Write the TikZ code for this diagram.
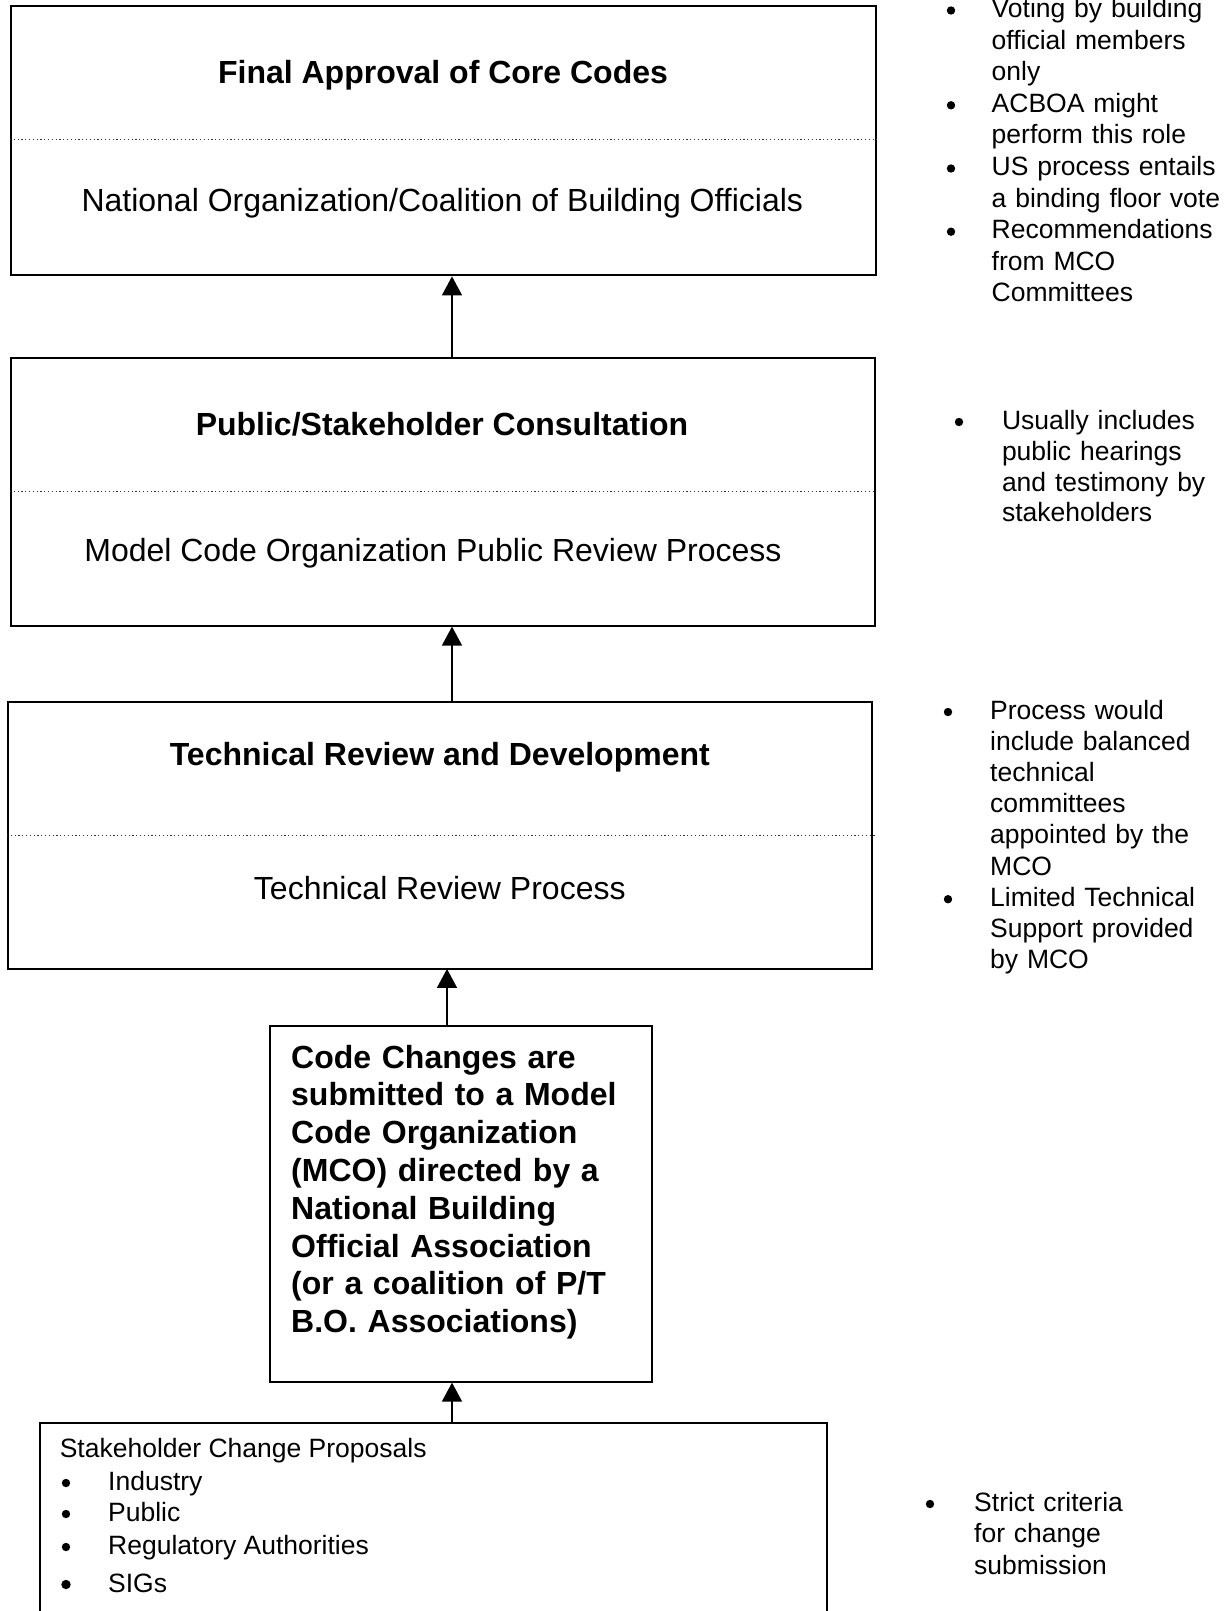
\documentclass[tikz,border=0pt]{standalone}
\usepackage{fontspec}
\setmainfont{Liberation Sans}
\usetikzlibrary{arrows.meta}

\begin{document}
\begin{tikzpicture}[x=1pt,y=-1pt,
  box/.style={draw=black, rectangle, anchor=north west, inner sep=0pt},
  divider/.style={draw=black!80, line width=1pt, dash pattern=on 1.2pt off 2.6pt},
  boxhead/.style={anchor=base, inner sep=0pt, font=\fontsize{32}{37.7}\bfseries\selectfont},
  boxsub/.style={anchor=base, inner sep=0pt, font=\fontsize{32}{37.7}\selectfont},
  note/.style={anchor=base west, inner sep=0pt, text width=320pt, align=left,
               font=\fontsize{26.5}{31.6}\selectfont},
  textline/.style={anchor=base west, inner sep=0pt, font=\fontsize{26.5}{31.6}\selectfont},
  dot/.style={circle, fill=black, draw=none, inner sep=0pt, minimum size=8.4pt},
  uparrow/.style={draw=black, line width=1.6pt, -{Triangle[width=20pt,length=19pt]}}
]
\useasboundingbox (0,0) rectangle (1231,1611);
\clip (0,0) rectangle (1231,1611);

% ---- stage boxes ----
\node[box, line width=2.4pt, minimum width=865pt, minimum height=269pt] (final) at (10,5) {};
\node[box, line width=1.6pt, minimum width=864pt, minimum height=268pt] (public) at (10,357) {};
\node[box, line width=1.9pt, minimum width=864pt, minimum height=267pt] (tech) at (7,701) {};
\node[box, line width=1.6pt, minimum width=382pt, minimum height=356pt] (submit) at (269,1025) {};
\node[box, line width=1.6pt, minimum width=787pt, minimum height=240pt] (proposals) at (39,1422) {};

% ---- dotted dividers ----
\draw[divider] (final.west |- 0,139) -- (final.east |- 0,139);
\draw[divider] (public.west |- 0,491) -- (public.east |- 0,491);
\draw[divider] (tech.west |- 0,835) -- (875,835);

% ---- box texts ----
\node[boxhead] (finalT) at (443,83.5) {Final Approval of Core Codes};
\node[boxsub]  (finalS) at (442.3,211.5) {National Organization/Coalition of Building Officials};
\node[boxhead] (publicT) at (442,435) {Public/Stakeholder Consultation};
\node[boxsub]  (publicS) at (433,561) {Model Code Organization Public Review Process};
\node[boxhead] (techT) at (439.8,765) {Technical Review and Development};
\node[boxsub]  (techS) at (439.8,899) {Technical Review Process};

\node[anchor=base west, inner sep=0pt, text width=350pt, align=left,
      font=\fontsize{32}{37.8}\bfseries\selectfont] (submitT) at (291,1068) {%
  Code Changes are\\
  submitted to a Model\\
  Code Organization\\
  (MCO) directed by a\\
  National Building\\
  Official Association\\
  (or a coalition of P/T\\
  B.O. Associations)};

% ---- stakeholder proposals ----
\node[textline] (propT) at (59.6,1457) {Stakeholder Change Proposals};
\node[dot] (pd1) at (66,1483) {};
\node[textline] (p1) at (108,1490) {Industry};
\node[dot] (pd2) at (66,1514) {};
\node[textline] (p2) at (108,1521) {Public};
\node[dot] (pd3) at (66,1547) {};
\node[textline] (p3) at (108,1554) {Regulatory Authorities};
\node[dot, minimum size=9.4pt] (pd4) at (66,1584.5) {};
\node[textline] (p4) at (108,1592) {SIGs};

% ---- arrows between stages ----
\coordinate (ax1) at (452,0);
\coordinate (ax2) at (447,0);
\draw[uparrow] (public.north -| ax1) -- (final.south -| ax1);
\draw[uparrow] ([yshift=-2pt]tech.north -| ax1) -- (public.south -| ax1);
\draw[uparrow] (submit.north -| ax2) -- ([yshift=1pt]tech.south -| ax2);
\draw[uparrow] (proposals.north -| ax1) -- (submit.south -| ax1);

% ---- side notes: final approval ----
\node[dot] (a1) at (951,10.5) {};
\node[note] (n1) at (991.5,17.5) {Voting by building\\official members\\only};
\node[dot] (a2) at (951,105.3) {};
\node[note] (n2) at (991.5,112.3) {ACBOA might\\perform this role};
\node[dot] (a3) at (951,168.5) {};
\node[note] (n3) at (991.5,175.5) {US process entails\\a binding floor vote};
\node[dot] (a4) at (951,231.7) {};
\node[note] (n4) at (991.5,238.7) {Recommendations\\from MCO\\Committees};

% ---- side notes: consultation ----
\node[dot] (b1) at (959,422) {};
\node[note, font=\fontsize{26.5}{30.8}\selectfont] (m1) at (1001.8,429.5)
  {Usually includes\\public hearings\\and testimony by\\stakeholders};

% ---- side notes: technical review ----
\node[dot] (c1) at (948,712) {};
\node[note, font=\fontsize{26.5}{31.2}\selectfont] (k1) at (990,719)
  {Process would\\include balanced\\technical\\committees\\appointed by the\\MCO};
\node[dot] (c2) at (948,899.2) {};
\node[note, font=\fontsize{26.5}{31.2}\selectfont] (k2) at (990,906.2)
  {Limited Technical\\Support provided\\by MCO};

% ---- side notes: proposals ----
\node[dot] (d1) at (930,1504) {};
\node[note, font=\fontsize{26.5}{31.5}\selectfont] (q1) at (974,1511)
  {Strict criteria\\for change\\submission};
\end{tikzpicture}
\end{document}
